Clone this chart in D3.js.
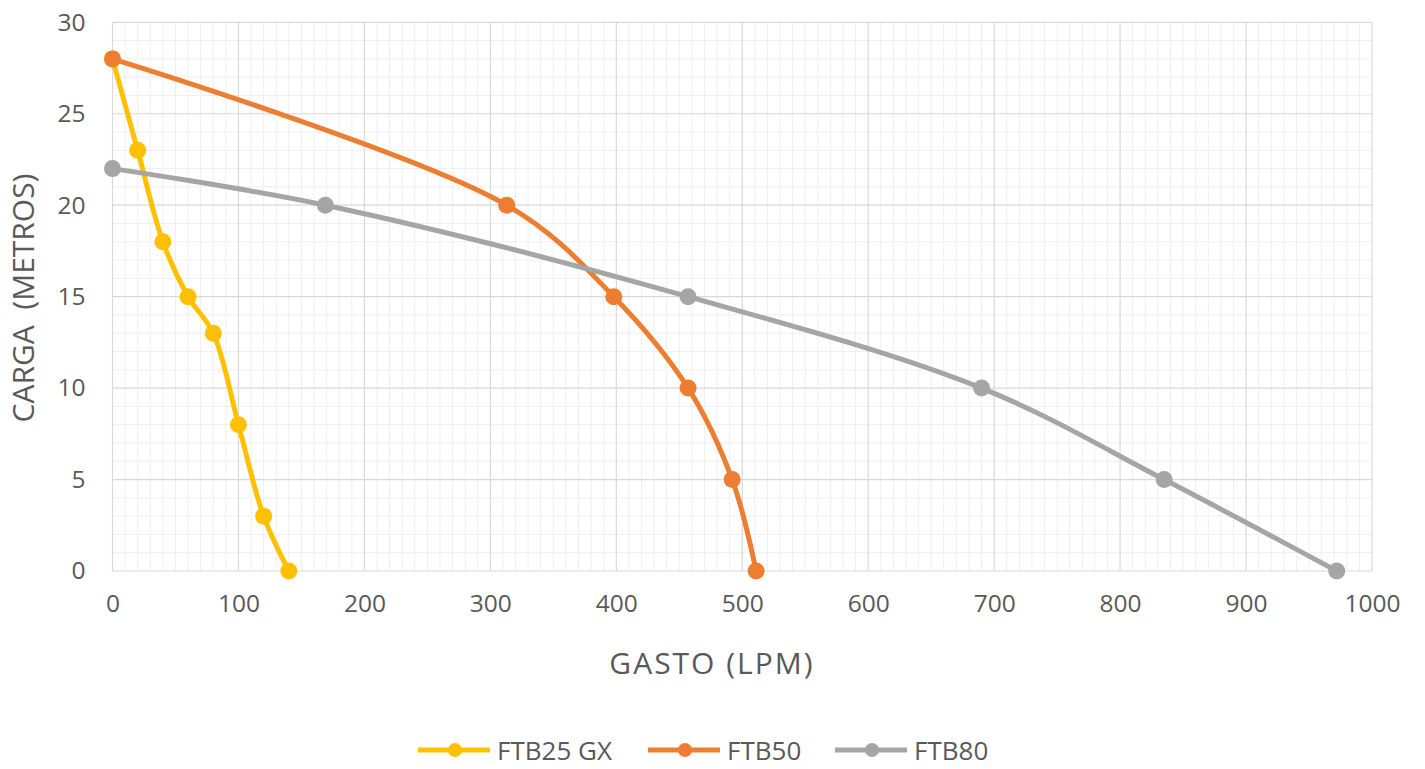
<!DOCTYPE html>
<html><head><meta charset="utf-8">
<script src="https://cdn.jsdelivr.net/npm/d3@7"></script>
<style>body{margin:0;background:#fff;} text{font-family:"Open Sans","Noto Sans",sans-serif;}</style>
</head><body><svg id="c" width="1425" height="769"></svg>
<script>
const seriesNames = ["FTB25 GX", "FTB50", "FTB80"];
const seriesColors = ["#FFC000", "#ED7D31", "#A5A5A5"];
const ftb25x = [0, 20, 40, 60, 80, 100, 120, 140];
const ftb25y = [28, 23, 18, 15, 13, 8, 3, 0];
const ftb50x = [0, 313, 398, 457, 492, 511];
const ftb50y = [28, 20, 15, 10, 5, 0];
const ftb80x = [0, 169, 457, 690, 835, 972];
const ftb80y = [22, 20, 15, 10, 5, 0];
const xTicks = [0,100,200,300,400,500,600,700,800,900,1000];
const yTicks = [0,5,10,15,20,25,30];
const xTitle = "GASTO (LPM)";
const yTitle = "CARGA\u00a0 (METROS)";

const svg = d3.select("#c");
const L = 112.5, R = 1372, T = 22.3, B = 571;
const x = d3.scaleLinear().domain([0,1000]).range([L,R]);
const y = d3.scaleLinear().domain([0,30]).range([B,T]);

// minor grid
const g = svg.append("g");
g.selectAll(".mx").data(d3.range(0,1001,10).filter(v=>v%100)).join("line")
  .attr("x1",d=>x(d)).attr("x2",d=>x(d)).attr("y1",T).attr("y2",B)
  .attr("stroke","#efefef").attr("stroke-width",1);
g.selectAll(".my").data(d3.range(0,31,1).filter(v=>v%5)).join("line")
  .attr("x1",L).attr("x2",R).attr("y1",d=>y(d)).attr("y2",d=>y(d))
  .attr("stroke","#efefef").attr("stroke-width",1);
// major grid
g.selectAll(".Mx").data(xTicks).join("line")
  .attr("x1",d=>x(d)).attr("x2",d=>x(d)).attr("y1",T).attr("y2",B)
  .attr("stroke","#d9d9d9").attr("stroke-width",1.2);
g.selectAll(".My").data(yTicks).join("line")
  .attr("x1",L).attr("x2",R).attr("y1",d=>y(d)).attr("y2",d=>y(d))
  .attr("stroke","#d9d9d9").attr("stroke-width",1.2);

// axes labels via d3 axes
const xa = svg.append("g").attr("transform",`translate(0,${B})`)
  .call(d3.axisBottom(x).tickValues(xTicks).tickSize(0).tickPadding(24).tickFormat(d3.format("d")));
const ya = svg.append("g").attr("transform",`translate(${L},0)`)
  .call(d3.axisLeft(y).tickValues(yTicks).tickSize(0).tickPadding(27).tickFormat(d3.format("d")));
[xa,ya].forEach(a=>{a.select(".domain").remove();
  a.selectAll("text").attr("fill","#595959").style("font-size","24.5px").style("font-family","'Open Sans','Noto Sans',sans-serif");});

svg.append("text").attr("x",712).attr("y",674).attr("text-anchor","middle")
  .attr("fill","#595959").style("font-size","30px").style("letter-spacing","2px").text(xTitle);
svg.append("text").attr("transform","translate(34,298) rotate(-90)").attr("text-anchor","middle")
  .attr("fill","#595959").style("font-size","30px").text(yTitle);

const series = [
  {name:seriesNames[0], xs:ftb25x, ys:ftb25y, color:seriesColors[0]},
  {name:seriesNames[1], xs:ftb50x, ys:ftb50y, color:seriesColors[1]},
  {name:seriesNames[2], xs:ftb80x, ys:ftb80y, color:seriesColors[2]},
];
const line = d3.line().x(d=>x(d[0])).y(d=>y(d[1])).curve(d3.curveCatmullRom.alpha(0.5));
series.forEach(s=>{
  const pts = s.xs.map((v,i)=>[v,s.ys[i]]);
  svg.append("path").datum(pts).attr("d",line).attr("fill","none")
    .attr("stroke",s.color).attr("stroke-width",5).attr("stroke-linejoin","round");
});
series.forEach(s=>{
  const pts = s.xs.map((v,i)=>[v,s.ys[i]]);
  svg.append("g").selectAll("circle").data(pts).join("circle")
    .attr("cx",d=>x(d[0])).attr("cy",d=>y(d[1])).attr("r",8.5).attr("fill",s.color);
});

// legend
const legX = [418, 648, 835];
series.forEach((s,i)=>{
  const lg = svg.append("g").attr("transform",`translate(${legX[i]},750)`);
  lg.append("line").attr("x1",0).attr("x2",72).attr("y1",0).attr("y2",0).attr("stroke",s.color).attr("stroke-width",5);
  lg.append("circle").attr("cx",37).attr("cy",0).attr("r",7).attr("fill",s.color);
  lg.append("text").attr("x",79).attr("y",10).attr("fill","#595959").style("font-size","26px").text(s.name);
});
</script></body></html>
